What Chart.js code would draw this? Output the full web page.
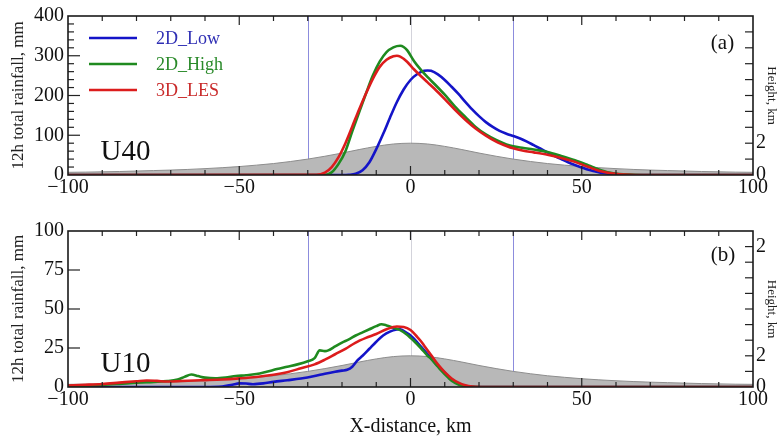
<!DOCTYPE html>
<html><head><meta charset="utf-8">
<script src="https://cdn.jsdelivr.net/npm/chart.js@4/dist/chart.umd.min.js"></script>
<style>
html,body{margin:0;padding:0;background:#fff}
body{width:782px;height:439px;overflow:hidden;position:relative}
#ca{position:absolute;left:0;top:0}
#cb{position:absolute;left:0;top:215px}
</style></head><body>
<canvas id="ca" width="782" height="215"></canvas>
<canvas id="cb" width="782" height="224"></canvas>
<script>
// ---------------- DATA ----------------
const seriesNames = ['2D_Low', '2D_High', '3D_LES'];
const panelLabels = ['(a)', '(b)'];
const caseLabels = ['U40', 'U10'];
const xTickValues = [-100, -50, 0, 50, 100];
const refLinesX = [-30, 30];

// terrain height (km)
const terrainX  = [-100,-95,-90,-85,-80,-75,-70,-65,-60,-55,-50,-45,-40,-35,-30,-25,-20,-15,-10,-5,0,5,10,15,20,25,30,35,40,45,50,55,60,65,70,75,80,85,90,95,100];
const terrainKm = [0.17,0.18,0.20,0.22,0.25,0.28,0.31,0.35,0.40,0.46,0.53,0.62,0.72,0.85,1.00,1.18,1.38,1.60,1.80,1.95,2.00,1.95,1.80,1.60,1.38,1.18,1.00,0.85,0.72,0.62,0.53,0.46,0.40,0.35,0.31,0.28,0.25,0.22,0.20,0.18,0.17];

// U40 (panel a) rainfall, mm
const lowX_a  = [-100,-20,-18,-16,-14,-12,-10,-8,-6,-4,-2,0,2,4,5,6,8,10,12,14,16,18,20,22,24,26,28,30,32,34,36,38,40,42,44,46,48,50,52,54,56,58,60,63,66,100];
const lowY_a  = [0,0,0.5,3,12,32,65,103,144,183,215,239,254,262,263,262,253,239,222,204,184,165,148,133,121,111,104,98,92,84,75,66,57,48,40,32,25,19,13,9,5,3,2,1,0,0];
const highX_a = [-100,-25,-23,-21,-19,-17,-15,-13,-11,-9,-7,-5,-3,-2,-1,1,3,5,7,10,13,16,19,22,25,28,30,33,36,40,44,48,52,55,58,61,64,68,100];
const highY_a = [0,0,7,28,60,110,158,205,250,285,309,321,325,322,314,287,265,246,229,202,172,146,121,102,88,77,72,68,64,58,48,37,24,14,6,2.5,1,0,0];
const lesX_a  = [-100,-27.5,-25,-23,-21,-19,-17,-15,-13,-11,-9,-7,-5,-4,-3,-1,1,3,5,7,10,13,16,19,22,25,28,30,33,36,40,44,48,52,55,58,61,64,68,100];
const lesY_a  = [0,0.5,6,20,45,80,122,165,205,242,272,290,299,300,298,285,266,249,233,217,191,164,139,117,99,84,73,67,61,57,51,43,33,20,11,5,2,0.5,0,0];

// U10 (panel b) rainfall, mm
const lowX_b  = [-100,-60,-55,-52,-50,-48,-46,-43,-40,-36,-32,-28,-25,-22,-20,-18.5,-17,-15.5,-14,-12,-10,-8,-6,-4,-3,-1,0,1,3,5,6,8,9,11,12,14,16,18,20,100];
const lowY_b  = [0,0,0.3,1.5,2.3,2.2,1.8,2.3,3.3,4.3,5.4,7,8.5,9.8,10.5,11,13,17,20,24.5,29,33,35.5,36.8,37,34.5,33,31,26,21,18.5,13.5,11.5,7,5,2,0.7,0.2,0,0];
const highX_b = [-100,-95,-90,-85,-80,-75,-71,-68,-66,-64,-62,-60,-57,-54,-51,-48,-45,-42,-39,-36,-33,-30,-28,-26.5,-25,-24,-22,-20,-18,-16,-14,-12,-10,-8.5,-7,-5,-3,-1,0,1,3,5,6,8,9,11,12,14,16,18,20,100];
const highY_b = [0.6,0.9,1.3,2,2.8,3.3,3.8,4.8,6.5,8,7,6,5.5,6,7,7.5,8.3,9.8,11.5,13,14.5,16.5,18.5,23.5,23,23.5,26,28.5,30.5,33,35,37,39,40.2,39.5,38,36.5,33.5,31.5,29.5,25,20,18,13,10.5,6,4,1.6,0.5,0.1,0,0];
const lesX_b  = [-100,-95,-90,-85,-80,-77,-74,-71,-67,-63,-60,-55,-50,-45,-40,-36,-32,-28,-25,-22,-19,-16,-13,-10,-7,-4,-2,0,2,3,4,6,8,10,12,14,16,18,22,100];
const lesY_b  = [1,1.4,1.9,2.8,3.7,4.2,3.9,3.5,3.8,4.2,4.4,4.8,5.5,6.4,7.8,9.5,12,14.5,17.5,21,24.5,28.5,31.5,34,37,38.8,38.5,36.5,32,29.5,26.5,20.5,14.5,9.5,5.5,2.8,1.1,0.3,0,0];

// axes
const leftMax = [400, 100];
const leftStep = [100, 25];
const leftMinorStep = [20, 25];
const rightMaxKm = 10;
const rightTickValues = [[0, 2], [0, 2, 9]];
const rightTickLabels = [['0', '2'], ['0', '2', '2']];

// ---------------- STYLE ----------------
const FONT = "'Liberation Serif', 'Times New Roman', serif";
const colors = ['#1414c8', '#1f8a1f', '#dc1c1c'];
const textColors = ['#2f2fb4', '#2a8a2a', '#c92a2a'];

function pts(xs, ys) { return xs.map((x, i) => ({x: x, y: ys[i]})); }

function makeChart(id, p) {
  const isTop = p === 0;
  const lows = isTop ? pts(lowX_a, lowY_a) : pts(lowX_b, lowY_b);
  const highs = isTop ? pts(highX_a, highY_a) : pts(highX_b, highY_b);
  const less = isTop ? pts(lesX_a, lesY_a) : pts(lesX_b, lesY_b);
  const tension = isTop ? 0.4 : 0.25;
  const lineDs = (label, data, c, order) => ({
    label: label, data: data, borderColor: c, backgroundColor: c, borderWidth: 2.6,
    pointRadius: 0, tension: tension, cubicInterpolationMode: 'monotone', yAxisID: 'y', order: order, fill: false
  });
  const deco = {
    id: 'deco',
    beforeDatasetsDraw(chart) {
      const {ctx, chartArea: a, scales: {x}} = chart;
      ctx.save();
      ctx.lineWidth = 1;
      ctx.strokeStyle = 'rgba(200,200,210,0.8)';
      let px = Math.round(x.getPixelForValue(0)) + 0.5;
      ctx.beginPath(); ctx.moveTo(px, a.top); ctx.lineTo(px, a.bottom); ctx.stroke();
      ctx.strokeStyle = 'rgba(120,120,215,0.85)';
      refLinesX.forEach(v => {
        const q = Math.round(x.getPixelForValue(v)) + 0.5;
        ctx.beginPath(); ctx.moveTo(q, a.top); ctx.lineTo(q, a.bottom); ctx.stroke();
      });
      ctx.restore();
    },
    afterDatasetsDraw(chart) {
      const {ctx, chartArea: a, scales: {x, y, y2}} = chart;
      ctx.save();
      ctx.strokeStyle = '#222';
      ctx.lineWidth = 1.2;
      for (let v = -90; v <= 90; v += 10) {
        const q = x.getPixelForValue(v);
        const len = (v % 50 === 0) ? 9 : 5;
        ctx.beginPath(); ctx.moveTo(q, a.bottom); ctx.lineTo(q, a.bottom - len); ctx.stroke();
        ctx.beginPath(); ctx.moveTo(q, a.top); ctx.lineTo(q, a.top + len); ctx.stroke();
      }
      for (let v = leftMinorStep[p]; v < leftMax[p]; v += leftMinorStep[p]) {
        const q = y.getPixelForValue(v);
        const len = (v % leftStep[p] === 0) ? 12 : 6;
        ctx.beginPath(); ctx.moveTo(a.left, q); ctx.lineTo(a.left + len, q); ctx.stroke();
      }
      for (let v = 1; v < rightMaxKm; v++) {
        const q = y2.getPixelForValue(v);
        ctx.beginPath(); ctx.moveTo(a.right, q); ctx.lineTo(a.right - 8, q); ctx.stroke();
      }
      ctx.lineWidth = 1.6;
      ctx.strokeStyle = '#1a1a1a';
      ctx.strokeRect(a.left, a.top, a.right - a.left, a.bottom - a.top);
      ctx.fillStyle = '#111';
      ctx.textBaseline = 'middle';
      ctx.textAlign = 'left';
      ctx.font = '29px ' + FONT;
      ctx.fillText(caseLabels[p], x.getPixelForValue(-90.5), isTop ? 152 : 149);
      ctx.font = '21px ' + FONT;
      ctx.fillText(panelLabels[p], x.getPixelForValue(87.7), isTop ? 43 : 40);
      if (isTop) {
        ctx.font = '18px ' + FONT;
        seriesNames.forEach((n, i) => {
          const yy = 38 + i * 26;
          ctx.strokeStyle = colors[i]; ctx.lineWidth = 2.6;
          ctx.beginPath(); ctx.moveTo(89, yy); ctx.lineTo(137, yy); ctx.stroke();
          ctx.fillStyle = textColors[i];
          ctx.fillText(n, 156, yy + 1);
        });
      }
      ctx.restore();
    }
  };
  return new Chart(document.getElementById(id), {
    type: 'line',
    data: {
      datasets: [
        lineDs(seriesNames[2], less, colors[2], 1),
        lineDs(seriesNames[1], highs, colors[1], 2),
        lineDs(seriesNames[0], lows, colors[0], 3),
        {label: 'terrain', data: pts(terrainX, terrainKm), yAxisID: 'y2', order: 10,
         borderColor: '#8d8d8d', borderWidth: 1, backgroundColor: '#b8b8b8', fill: 'origin',
         pointRadius: 0, tension: 0.4, cubicInterpolationMode: 'monotone'}
      ]
    },
    options: {
      responsive: false, animation: false, devicePixelRatio: 1,
      layout: {padding: {top: isTop ? 15 : 12, left: 0, right: 0, bottom: 0}},
      plugins: {legend: {display: false}, tooltip: {enabled: false}},
      scales: {
        x: {
          type: 'linear', min: -100, max: 100,
          afterBuildTicks(s) { s.ticks = xTickValues.map(v => ({value: v})); },
          ticks: {font: {family: FONT, size: 20}, color: '#111', padding: 1, maxRotation: 0, autoSkip: false,
                  callback: v => (v < 0 ? '\u2212' + Math.abs(v) : String(v))},
          grid: {display: false, drawTicks: false}, border: {display: false},
          title: {display: !isTop, text: 'X-distance, km', font: {family: FONT, size: 20}, color: '#111', padding: {top: 0, bottom: 0}},
          afterFit(s) { s.height = isTop ? 40 : 52; }
        },
        y: {
          position: 'left', min: 0, max: leftMax[p],
          ticks: {stepSize: leftStep[p], font: {family: FONT, size: 20}, color: '#111', padding: 4},
          grid: {display: false, drawTicks: false}, border: {display: false},
          title: {display: true, text: '12h total rainfall, mm', font: {family: FONT, size: 17}, color: '#222', padding: {top: 8, bottom: 0}},
          afterFit(s) { s.width = 68; }
        },
        y2: {
          position: 'right', min: 0, max: rightMaxKm,
          afterBuildTicks(s) { s.ticks = rightTickValues[p].map(v => ({value: v})); },
          ticks: {font: {family: FONT, size: 20}, color: '#111', padding: 3, autoSkip: false,
                  callback: (v, i) => rightTickLabels[p][i]},
          grid: {display: false, drawTicks: false}, border: {display: false},
          title: {display: true, text: 'Height, km', font: {family: FONT, size: 13}, color: '#222', padding: {top: 3, bottom: 0}},
          afterFit(s) { s.width = 29; }
        }
      }
    },
    plugins: [deco]
  });
}
makeChart('ca', 0);
makeChart('cb', 1);
</script>
</body></html>
